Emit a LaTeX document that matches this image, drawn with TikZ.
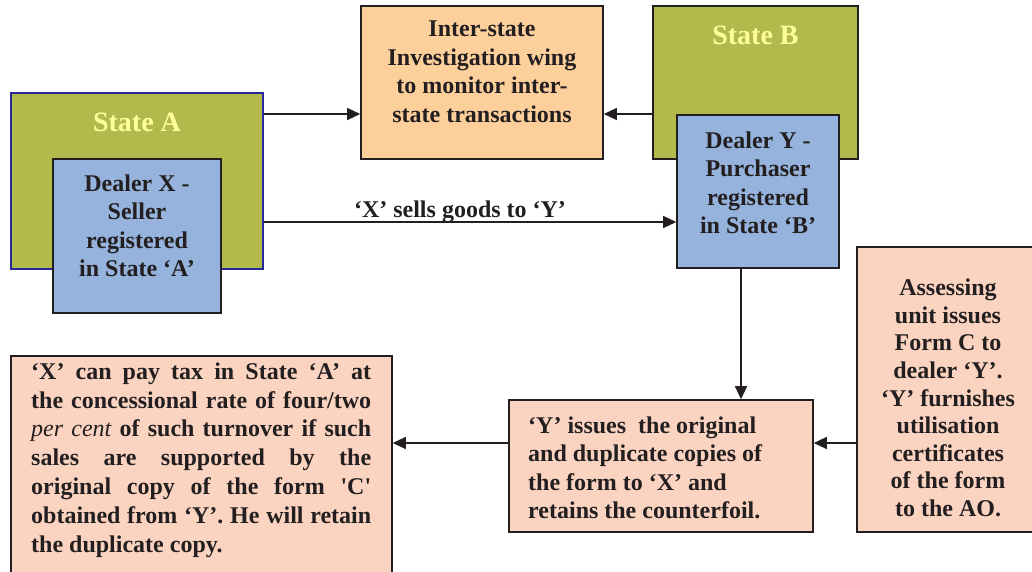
\documentclass[tikz,border=0pt]{standalone}
\usepackage{fontspec}
\newfontfamily\tf{Liberation Serif}
\usetikzlibrary{arrows.meta}
\definecolor{cgreen}{RGB}{177,186,74}
\definecolor{cstate}{RGB}{255,255,153}
\definecolor{cblue}{RGB}{149,179,220}
\definecolor{corange}{RGB}{253,207,155}
\definecolor{csalmon}{RGB}{251,212,193}
\definecolor{cline}{RGB}{35,31,32}
\definecolor{cdblue}{RGB}{40,40,150}
\tikzset{
  box/.style={draw=cline, line width=1.6pt, inner sep=0pt, rectangle},
  txt/.style={text=cline, inner sep=0pt, font=\tf\bfseries\fontsize{24}{28.5}\selectfont},
  stlab/.style={text=cstate, inner sep=0pt, font=\tf\bfseries\fontsize{28}{32}\selectfont},
  arr/.style={draw=cline, line width=1.3pt, -{Triangle[length=13pt,width=12pt]}}
}
\begin{document}
\begin{tikzpicture}[x=1pt,y=-1pt]
\useasboundingbox (0,0) rectangle (1032,571);
\clip (0,0) rectangle (1032,571);
% boxes
\node[box, draw=cdblue, fill=cgreen, minimum width=252pt, minimum height=176pt] (sa) at (137,181) {};
\node[box, fill=cblue, minimum width=168pt, minimum height=154pt] (dx) at (137,236) {};
\node[box, fill=corange, minimum width=242pt, minimum height=153pt] (isw) at (482,82.5) {};
\node[box, fill=cgreen, minimum width=205pt, minimum height=153pt] (sb) at (755.5,82.5) {};
\node[box, fill=cblue, minimum width=162pt, minimum height=153pt] (dy) at (758,191.5) {};
\node[box, fill=csalmon, minimum width=304pt, minimum height=132pt] (yi) at (661,466) {};
\node[box, fill=csalmon, minimum width=182pt, minimum height=285pt] (as) at (948,389.5) {};
\node[box, fill=csalmon, minimum width=381pt, minimum height=244pt] (lb) at (201.5,478) {};
% texts
\node[stlab] (tsa) at (137,122) {State A};
\node[stlab] (tsb) at (755.5,35) {State B};
\node[txt, align=center] (tdx) at (137,226) {Dealer X -\\Seller\\registered\\in State ‘A’};
\node[txt, align=center] (tisw) at (482,72) {Inter-state\\Investigation wing\\to monitor inter-\\state transactions};
\node[txt, align=center] (tdy) at (758,183) {Dealer Y -\\Purchaser\\registered\\in State ‘B’};
\node[txt, align=left, anchor=west] (tyi) at (528,468) {‘Y’ issues\ \ the original\\and duplicate copies of\\the form to ‘X’ and\\retains the counterfoil.};
\node[txt, align=center, font=\tf\bfseries\fontsize{24}{27.6}\selectfont] (tas) at (948,398) {Assessing\\unit issues\\Form C to\\dealer ‘Y’.\\‘Y’ furnishes\\utilisation\\certificates\\of the form\\to the AO.};
\node[txt, text width=340pt, align=justify, anchor=west, font=\tf\bfseries\fontsize{24}{28.8}\selectfont] (tlb) at (31,460) {‘X’ can pay tax in State ‘A’ at\linebreak the concessional rate of four/two\linebreak {\mdseries\itshape per cent} of such turnover if such\linebreak sales are supported by the\linebreak original copy of the form \symbol{"27}C\symbol{"27}\linebreak obtained from ‘Y’. He will retain\linebreak the duplicate copy.};
\node[txt] (tsell) at (460,212) {‘X’ sells goods to ‘Y’};
% connectors
\coordinate (r1) at (0,114);
\coordinate (r2) at (0,222);
\coordinate (r3) at (0,443);
\coordinate (vx) at (741,0);
\draw[arr] (sa.east |- r1) -- (isw.west |- r1);
\draw[arr] (sb.west |- r1) -- (isw.east |- r1);
\draw[arr] (sa.east |- r2) -- (dy.west |- r2);
\draw[arr] (dy.south -| vx) -- (yi.north -| vx);
\draw[arr] (as.west |- r3) -- (yi.east |- r3);
\draw[arr] (yi.west |- r3) -- (lb.east |- r3);
\end{tikzpicture}
\end{document}
